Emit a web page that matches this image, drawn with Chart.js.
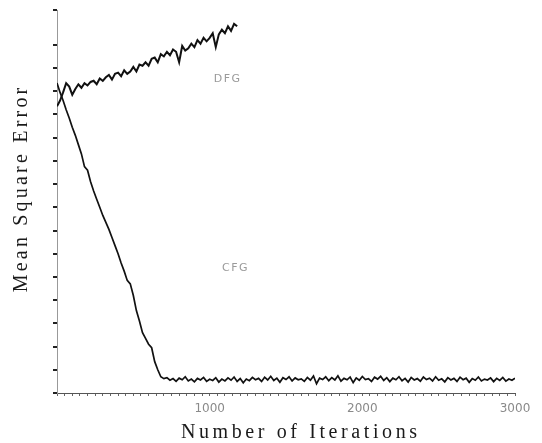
<!DOCTYPE html>
<html>
<head>
<meta charset="utf-8">
<script src="https://cdn.jsdelivr.net/npm/chart.js@4"></script>
<style>
html,body{margin:0;padding:0;background:#fff;}
#c{display:block;}
</style>
</head>
<body>
<canvas id="c" width="542" height="443"></canvas>
<script>
// ---- data ----
const sampleStep = 20; // iterations between samples
const xTickLabels = ["1000", "2000", "3000"];
const seriesNames = ["DFG", "CFG"];
// upper curve (DFG), iterations 0..1180
const dfgValues = [12.35, 12.6, 12.95, 13.35, 13.2, 12.85, 13.1, 13.3, 13.15, 13.35,
  13.25, 13.4, 13.45, 13.3, 13.55, 13.45, 13.6, 13.7, 13.5, 13.75,
  13.8, 13.65, 13.9, 13.75, 13.85, 14.05, 13.85, 14.15, 14.1, 14.25,
  14.1, 14.4, 14.45, 14.25, 14.6, 14.5, 14.7, 14.55, 14.8, 14.7,
  14.25, 14.95, 14.75, 14.85, 15.05, 14.9, 15.2, 15.05, 15.3, 15.15,
  15.3, 15.5, 14.9, 15.45, 15.65, 15.5, 15.8, 15.6, 15.9, 15.8];
// lower curve (CFG), iterations 0..3000
const cfgValues = [13.35, 12.95, 12.6, 12.2, 11.85, 11.45, 11.1, 10.7, 10.3, 9.75,
  9.6, 9.1, 8.7, 8.35, 8.0, 7.65, 7.35, 7.05, 6.7, 6.35,
  6.0, 5.6, 5.25, 4.85, 4.7, 4.2, 3.55, 3.1, 2.6, 2.35,
  2.1, 1.95, 1.35, 1.0, 0.7, 0.62,
  0.66, 0.55, 0.62, 0.5, 0.64, 0.57, 0.7, 0.52, 0.6, 0.48, 0.63, 0.56, 0.67, 0.5, 0.59,
  0.54, 0.66, 0.47, 0.6, 0.52, 0.65, 0.55, 0.69, 0.5, 0.62, 0.44, 0.6, 0.53, 0.67, 0.57,
  0.63, 0.5, 0.68, 0.56, 0.72, 0.54, 0.64, 0.46, 0.66, 0.58, 0.7, 0.52, 0.65, 0.57, 0.61,
  0.5, 0.67, 0.55, 0.73, 0.4, 0.64, 0.58, 0.7, 0.53, 0.66, 0.56, 0.74, 0.51, 0.63, 0.57,
  0.69, 0.45, 0.65, 0.55, 0.71, 0.58, 0.62, 0.5, 0.68, 0.6, 0.72, 0.54, 0.66, 0.49, 0.64,
  0.57, 0.7, 0.53, 0.63, 0.47, 0.67, 0.56, 0.62, 0.51, 0.69, 0.58, 0.64, 0.52, 0.7, 0.55,
  0.61, 0.48, 0.66, 0.56, 0.63, 0.5, 0.68, 0.57, 0.64, 0.46, 0.62, 0.55, 0.69, 0.52, 0.6,
  0.56, 0.65, 0.49, 0.63, 0.54, 0.67, 0.51, 0.6, 0.55, 0.64];
// label anchor points (iteration, value)
const dfgLabelAt = [1113, 13.5];
const cfgLabelAt = [1165, 5.4];

const toPoints = vals => vals.map((v, i) => ({x: i * sampleStep, y: v}));

function spacedText(ctx, text, cx, cy, spacing) {
  const chars = [...text];
  const ws = chars.map(ch => ctx.measureText(ch).width);
  const total = ws.reduce((a, b) => a + b, 0) + spacing * (chars.length - 1);
  let xx = cx - total / 2;
  ctx.textAlign = 'left';
  ctx.textBaseline = 'middle';
  chars.forEach((ch, i) => { ctx.fillText(ch, xx, cy); xx += ws[i] + spacing; });
}

const overlay = {
  id: 'overlay',
  afterDraw(chart) {
    const {ctx, scales: {x, y}} = chart;
    ctx.save();
    ctx.fillStyle = '#1a1a1a';
    ctx.font = '20px "Liberation Serif", serif';
    spacedText(ctx, 'Number of Iterations', 299, 433, 3.6);
    ctx.save();
    ctx.translate(22, 190);
    ctx.rotate(-Math.PI / 2);
    spacedText(ctx, 'Mean Square Error', 0, 0, 3.2);
    ctx.restore();
    ctx.fillStyle = '#9a9a9a';
    ctx.font = '11px "DejaVu Sans", sans-serif';
    spacedText(ctx, seriesNames[0], x.getPixelForValue(dfgLabelAt[0]), y.getPixelForValue(dfgLabelAt[1]), 1.5);
    spacedText(ctx, seriesNames[1], x.getPixelForValue(cfgLabelAt[0]), y.getPixelForValue(cfgLabelAt[1]), 1.5);
    ctx.restore();
  }
};

new Chart(document.getElementById('c'), {
  type: 'line',
  data: {
    datasets: [
      {label: seriesNames[0], data: toPoints(dfgValues), borderColor: '#111', borderWidth: 2, pointRadius: 0, tension: 0, fill: false},
      {label: seriesNames[1], data: toPoints(cfgValues), borderColor: '#111', borderWidth: 1.7, pointRadius: 0, tension: 0, fill: false}
    ]
  },
  options: {
    responsive: false,
    animation: false,
    layout: {padding: {left: 0, right: 27, top: 10, bottom: 0}},
    plugins: {legend: {display: false}, tooltip: {enabled: false}},
    scales: {
      x: {
        type: 'linear', min: 0, max: 3000,
        afterFit: s => { s.height = 50; },
        border: {display: true, color: '#555', dash: [3, 2], width: 1},
        grid: {drawOnChartArea: false, drawTicks: true, tickLength: 3, color: '#666', lineWidth: 1},
        ticks: {
          stepSize: 50, autoSkip: false, maxRotation: 0, padding: 6,
          color: '#8a8a8a', font: {family: '"DejaVu Sans", sans-serif', size: 12},
          callback: v => xTickLabels.includes(String(v)) ? String(v) : ''
        }
      },
      y: {
        type: 'linear', min: 0, max: 16.5,
        afterFit: s => { s.width = 57; },
        border: {display: true, color: '#999', dash: [1, 2], width: 1},
        grid: {drawOnChartArea: false, drawTicks: true, tickLength: 4, color: '#222', lineWidth: 2},
        ticks: {stepSize: 1, display: false}
      }
    }
  },
  plugins: [overlay]
});
</script>
</body>
</html>
